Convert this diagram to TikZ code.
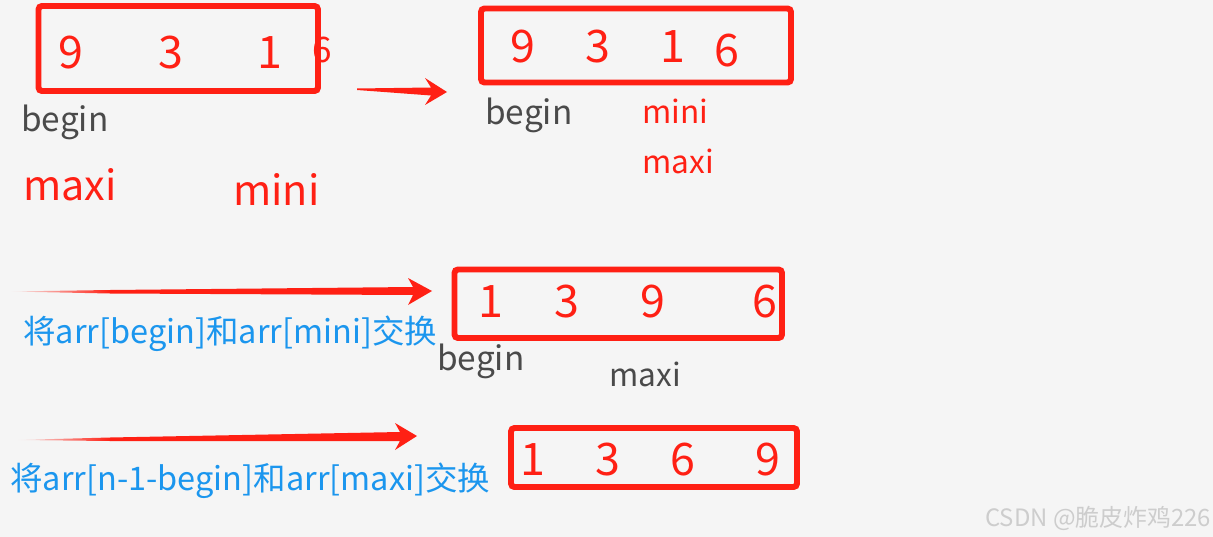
\documentclass[tikz,border=0pt]{standalone}
\usepackage{fontspec}
\setmainfont{Noto Sans CJK SC}
\usetikzlibrary{positioning}
\definecolor{bgc}{RGB}{245,245,245}
\definecolor{redc}{RGB}{255,32,20}
\definecolor{bluec}{RGB}{27,150,238}
\definecolor{greyc}{RGB}{74,74,74}
\definecolor{markc}{RGB}{205,205,205}

\begin{document}
\begin{tikzpicture}[x=0.02cm, y=-0.02cm,
  every node/.style={inner sep=0pt},
  num/.style={text=redc, font=\fontsize{25.5}{28}\selectfont},
  idx/.style={anchor=base west, font=\fontsize{19}{22}\selectfont},
  arrbox/.style={draw=redc, line width=3.4pt, rounded corners=2pt},
  note/.style={anchor=base west, text=bluec, font=\fontsize{18.5}{22}\selectfont}]
  \fill[bgc] (0,0) rectangle (1213,537);
  \useasboundingbox (0,0) rectangle (1213,537);
  % first array
  \node[num, font=\fontsize{20}{24}\selectfont] (a4) at (322,50) {6};
  \draw[arrbox] (38.5,6) rectangle (318,91);
  \node[num] (a1) at (71,53) {9};
  \node[num] (a2) at (171,53) {3};
  \node[num] (a3) at (270,53) {1};
  \node[idx, text=greyc] (begA) at (21,132) {begin};
  \node[idx, text=redc, font=\fontsize{23.5}{26}\selectfont] (maxA) at (23,200) {maxi};
  \node[idx, text=redc, font=\fontsize{23.5}{26}\selectfont] (minA) at (233,205) {mini};
  % arrow to second array
  \fill[redc] (357,88.5) -- (431,87.5) -- (425,78) -- (447,92) -- (425,105) -- (431,95.5) -- (357,90) -- cycle;
  % second array
  \draw[arrbox] (481,8.5) rectangle (791,82.5);
  \node[num] (b1) at (523,47) {9};
  \node[num] (b2) at (598,47) {3};
  \node[num] (b3) at (673,47) {1};
  \node[num] (b4) at (727,51) {6};
  \node[idx, text=greyc] (begB) at (485,125) {begin};
  \node[idx, text=redc, font=\fontsize{18}{21}\selectfont] (minB) at (642,123) {mini};
  \node[idx, text=redc, font=\fontsize{18}{21}\selectfont] (maxB) at (642,173) {maxi};
  % first swap
  \shade[left color=bgc, right color=redc] (10,291.5) -- (110,290) -- (110,293.5) -- cycle;
  \fill[redc] (110,290) -- (413,287) -- (408,278) -- (432,291) -- (408,305) -- (413,295) -- (110,293.5) -- cycle;
  \node[note] (swapA) at (23,343) {将arr[begin]和arr[mini]交换};
  \draw[arrbox] (454.5,269.5) rectangle (782,338);
  \node[num] (c1) at (491,302) {1};
  \node[num] (c2) at (567,302) {3};
  \node[num] (c3) at (653,302) {9};
  \node[num] (c4) at (765,302) {6};
  \node[idx, text=greyc] (begC) at (437,370) {begin};
  \node[idx, text=greyc, font=\fontsize{18}{21}\selectfont] (maxC) at (609,386) {maxi};
  % second swap
  \shade[left color=bgc, right color=redc] (17,440) -- (110,437.5) -- (110,441) -- cycle;
  \fill[redc] (110,437.5) -- (400,432) -- (395,423) -- (417,436) -- (395,450) -- (400,441) -- (110,441) -- cycle;
  \node[note] (swapB) at (10,490) {将arr[n-1-begin]和arr[maxi]交换};
  \draw[arrbox] (511,428) rectangle (797,487);
  \node[num] (d1) at (533,460) {1};
  \node[num] (d2) at (608,460) {3};
  \node[num] (d3) at (683,460) {6};
  \node[num] (d4) at (768,460) {9};
  % watermark
  \node[anchor=base west, text=markc, font=\fontsize{13.6}{16}\selectfont] (mark) at (985,526) {CSDN @脆皮炸鸡226};
\end{tikzpicture}
\end{document}
